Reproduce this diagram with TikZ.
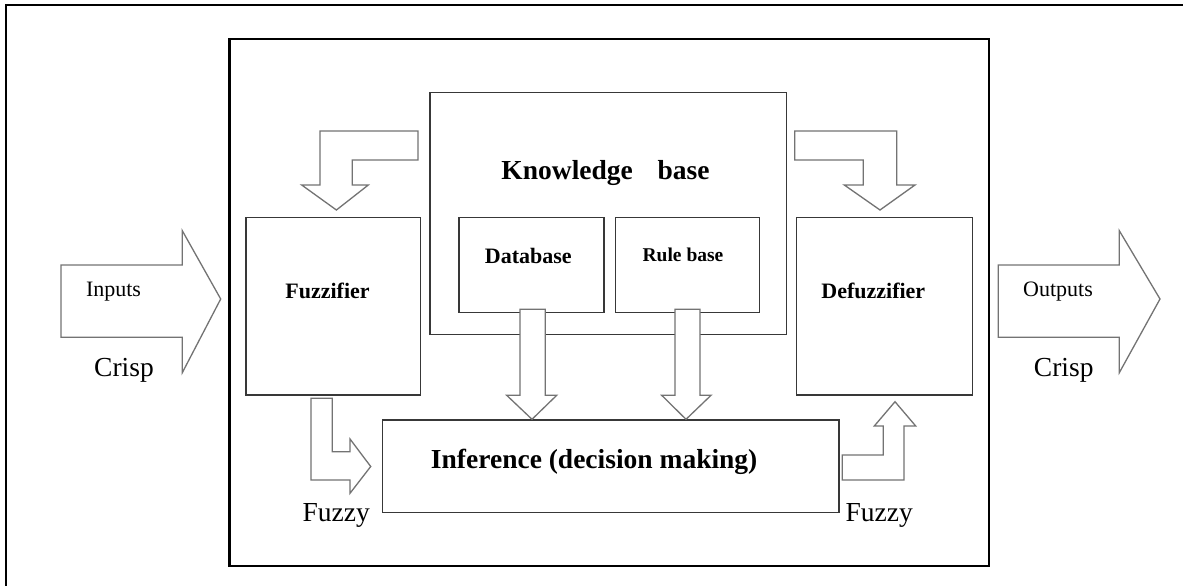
\documentclass[tikz,border=0pt]{standalone}
\usepackage{fontspec}
\setmainfont{Liberation Serif}
\begin{document}
\begin{tikzpicture}[x=1pt,y=-1pt,
  frame/.style={draw=black, line width=2.4pt},
  box/.style={draw=black!78, line width=1.4pt, fill=white, inner sep=0pt},
  blockarrow/.style={draw=black!55, line width=1.3pt, fill=white, line join=miter},
  lbl/.style={inner sep=0pt, text=black},
  small/.style={lbl, font=\fontsize{22}{24}\selectfont},
  large/.style={lbl, font=\fontsize{27.5}{30}\selectfont},
  boldsmall/.style={lbl, font=\bfseries\fontsize{22}{24}\selectfont},
  boldlarge/.style={lbl, font=\bfseries\fontsize{27.5}{30}\selectfont}]
\useasboundingbox (0,0) rectangle (1183,586);

% outer border
\draw[frame] (6,600) -- (6,5) -- (1200,5);

% system frame
\node[frame, fill=white, minimum width=759.7pt, minimum height=526.7pt, inner sep=0pt] (system) at (609.15,302.65) {};

% knowledge base with its two parts
\node[box, minimum width=356.3pt, minimum height=241.6pt] (kb) at (608.15,213.5) {};
\node[box, minimum width=145pt, minimum height=95.4pt] (db) at (531.5,265) {};
\node[box, minimum width=143.6pt, minimum height=95.4pt] (rb) at (687.5,265) {};

% processing blocks
\node[box, minimum width=174.7pt, minimum height=177.3pt] (fuzz) at (333.35,306.35) {};
\node[box, minimum width=175.6pt, minimum height=177.3pt] (defuzz) at (884.5,306.35) {};
\node[box, minimum width=456.5pt, minimum height=92.3pt] (inf) at (610.75,466.15) {};

% crisp input and output
\draw[blockarrow] (61,265) -- (182.3,265) -- (182.3,230.7) -- (220.7,299)
  -- (182.3,372.7) -- (182.3,337.3) -- (61,337.3) -- cycle;
\draw[blockarrow] (998.3,265) -- (1119.3,265) -- (1119.3,230.7) -- (1160,299)
  -- (1119.3,372.7) -- (1119.3,337.3) -- (998.3,337.3) -- cycle;

% knowledge base feeding fuzzifier and defuzzifier
\draw[blockarrow] (418,131) -- (320,131) -- (320,185) -- (301.7,185) -- (336.4,210)
  -- (368.3,185) -- (352.3,185) -- (352.3,160) -- (418,160) -- cycle;
\draw[blockarrow] (794.7,131) -- (896.7,131) -- (896.7,185) -- (915,185) -- (880,210)
  -- (844.3,185) -- (863.3,185) -- (863.3,160) -- (794.7,160) -- cycle;

% database and rule base feeding inference
\draw[blockarrow] (520,309.3) -- (545.3,309.3) -- (545.3,395.3) -- (556.7,395.3)
  -- (532,419.3) -- (506.7,395.3) -- (520,395.3) -- cycle;
\draw[blockarrow] (675,309.3) -- (700,309.3) -- (700,395.3) -- (711,395.3)
  -- (686,419.3) -- (661.7,395.3) -- (675,395.3) -- cycle;

% fuzzy sets in and out of inference
\draw[blockarrow] (311,398.3) -- (332.3,398.3) -- (332.3,451.7) -- (350,451.7) -- (350,439)
  -- (370.7,466.5) -- (350,493.3) -- (350,480) -- (311,480) -- cycle;
\draw[blockarrow] (842.3,455) -- (883.3,455) -- (883.3,426) -- (874.3,426) -- (895,401.7)
  -- (915.7,426) -- (904,426) -- (904,480) -- (842.3,480) -- cycle;

% labels
\node[small] (tin) at (113.5,292) {Inputs};
\node[large] (cin) at (124,370) {Crisp};
\node[small] (tout) at (1058,292) {Outputs};
\node[large] (cout) at (1063.7,370) {Crisp};
\node[large] (fzin) at (336.3,515) {Fuzzy};
\node[large] (fzout) at (879.2,515) {Fuzzy};
\node[boldsmall] (tfuzz) at (327.5,291) {Fuzzifier};
\node[boldsmall] (tdefuzz) at (873.3,291) {Defuzzifier};
\node[boldlarge] (tkb) at (605.5,173) {Knowledge\hspace{0.9em}base};
\node[boldsmall] (tdb) at (528.3,255.5) {Database};
\node[lbl, font=\bfseries\fontsize{19.5}{22}\selectfont] (trb) at (683,255) {Rule base};
\node[boldlarge] (tinf) at (594.2,462) {Inference (decision making)};
\end{tikzpicture}
\end{document}
